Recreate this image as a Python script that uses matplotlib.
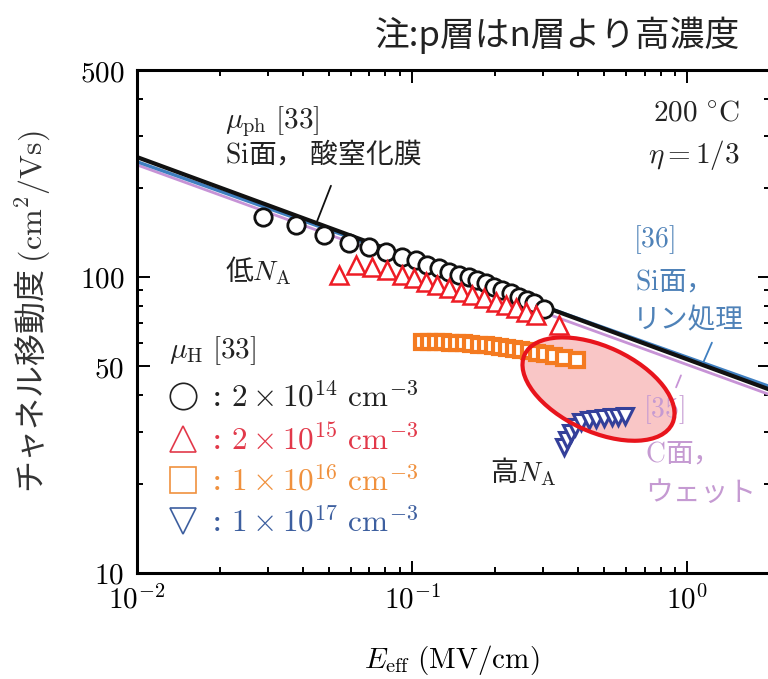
import matplotlib
matplotlib.use('Agg')
import matplotlib.pyplot as plt
import matplotlib.transforms as mtransforms
from matplotlib.patches import Ellipse
from matplotlib.lines import Line2D
from matplotlib.ticker import NullFormatter

plt.rcParams['font.family'] = ['DejaVu Serif', 'Noto Sans CJK JP']
plt.rcParams['mathtext.fontset'] = 'cm'
JP = ['Noto Sans CJK JP']

# ---- data ----
# straight reference lines (two end points each, log-log)
line_x = [0.01, 2.0]
mu_ph_y = [254, 41.6]    # [33] Si face, oxynitride (phonon limited)
si_p_y = [245, 42.6]     # [36] Si face, P treatment
c_wet_y = [239, 40.0]    # [35] C face, wet

# Hall mobility [33], four doping levels
e_14 = [0.0286, 0.0380, 0.0480, 0.0591, 0.0699, 0.0805, 0.0920, 0.1034, 0.1133, 0.1253, 0.1362,
        0.148, 0.161, 0.172, 0.1854, 0.198, 0.212, 0.2285, 0.244, 0.261, 0.277, 0.301]
mu_14 = [159.5, 150, 138.6, 130, 126, 121, 117, 114, 110, 107, 104,
         101.6, 100, 97.7, 95.4, 92.5, 90.3, 88.3, 85.5, 83.6, 81.7, 78]

e_15 = [0.0544, 0.0627, 0.0716, 0.0812, 0.0920, 0.1017, 0.1124, 0.1232, 0.1362, 0.1505,
        0.165, 0.1823, 0.2015, 0.219, 0.238, 0.259, 0.281, 0.341]
mu_15 = [101.6, 110, 108, 105.6, 101.6, 99.2, 96.2, 94, 91.8, 89,
         86.9, 84.9, 82.3, 80.4, 78.6, 76.2, 74.4, 68.8]

e_16 = [0.1087, 0.1153, 0.122, 0.1295, 0.1373, 0.1456, 0.154, 0.1636, 0.175, 0.1854, 0.1965,
        0.2083, 0.221, 0.2343, 0.248, 0.2653, 0.2836, 0.303, 0.3268, 0.3554, 0.396]
mu_16 = [60.5, 60.5, 60.3, 60.2, 60.0, 59.8, 59.6, 59.4, 59.1, 58.8, 58.5,
         58.1, 57.7, 57.2, 56.7, 56.1, 55.5, 54.8, 54.1, 53.3, 52.5]

e_17 = [0.3554, 0.3645, 0.377, 0.3896, 0.41, 0.4378, 0.468, 0.5004, 0.535, 0.5623, 0.596]
mu_17 = [26.7, 28.1, 29.7, 31.1, 32.4, 32.9, 33.1, 33.4, 33.6, 33.7, 33.9]

legend_labels = [r': $2\times10^{14}\ \mathrm{cm}^{-3}$',
                 r': $2\times10^{15}\ \mathrm{cm}^{-3}$',
                 r': $1\times10^{16}\ \mathrm{cm}^{-3}$',
                 r': $1\times10^{17}\ \mathrm{cm}^{-3}$']

x_ticks = [0.01, 0.1, 1]
x_ticklabels = [r'$10^{-2}$', r'$10^{-1}$', r'$10^{0}$']
y_ticks = [10, 50, 100, 500]
y_ticklabels = [r'$10$', r'$50$', r'$100$', r'$500$']

# highlighted region (centre in data units)
ell_center = (0.476, 41.8)

# ---- figure ----
fig = plt.figure(figsize=(7.68, 6.79), dpi=100)
ax = fig.add_axes([137 / 768, 106 / 679, 633 / 768, 503 / 679])
ax.set_xscale('log')
ax.set_yscale('log')
ax.set_xlim(0.01, 2.0)
ax.set_ylim(10, 500)

blue_c = '#3f7fc0'
purple_c = '#c793d6'

ax.plot(line_x, c_wet_y, color=purple_c, lw=2.0, zorder=2)
ax.plot(line_x, si_p_y, color=blue_c, lw=2.4, zorder=2.1)
ax.plot(line_x, mu_ph_y, color='#111111', lw=3.0, zorder=2.2)

# pink ellipse fill (under markers)
off = mtransforms.ScaledTranslation(ell_center[0], ell_center[1], ax.transData)
ax.add_patch(Ellipse((0, 0), 163, 85, angle=-25, transform=off,
                     facecolor='#f9bcbc', edgecolor='none', alpha=0.85, zorder=1.5))

mk = dict(linestyle='none', markerfacecolor='white', zorder=3)
ax.plot(e_14, mu_14, marker='o', ms=12.5, mew=2.0, markeredgecolor='#111111', **mk)
ax.plot(e_15, mu_15, marker='^', ms=13, mew=1.8, markeredgecolor='#ee1c25', **mk)
ax.plot(e_16, mu_16, marker='s', ms=10, mew=3.0, markeredgecolor='#f47a20', **mk)
ax.plot(e_17, mu_17, marker='v', ms=11, mew=2.2, markeredgecolor='#34409a', **mk)

# ellipse outline on top
ax.add_patch(Ellipse((0, 0), 163, 85, angle=-25, transform=off,
                     facecolor='none', edgecolor='#e8141c', lw=3.0, zorder=4))

# axes styling
for s in ax.spines.values():
    s.set_linewidth(2.2)
ax.tick_params(which='both', direction='in', top=True, right=True, width=1.4, labelsize=21)
ax.tick_params(which='major', length=9, pad=9)
ax.tick_params(which='minor', length=4.5)
ax.set_xticks(x_ticks)
ax.set_xticklabels(x_ticklabels)
ax.set_yticks(y_ticks)
ax.set_yticklabels(y_ticklabels)
ax.xaxis.set_minor_formatter(NullFormatter())
ax.yaxis.set_minor_formatter(NullFormatter())

ax.set_xlabel(r'$E_{\rm eff}\ (\mathrm{MV/cm})$', fontsize=21)
ax.xaxis.set_label_coords(0.498, -0.14)
ax.set_ylabel(r'チャネル移動度 $(\mathrm{cm}^2/\mathrm{Vs})$', fontsize=23,
              family=JP, color='#333333')
ax.yaxis.set_label_coords(-0.134, 0.52)

# annotations
txt = dict(transform=ax.transAxes, fontsize=21, va='center', color='#222222')
jtx = dict(txt, fontsize=20, family=JP)
ax.text(0.139, 0.897, r'$\mu_{\rm ph}\ [33]$', ha='left', **txt)
ax.text(0.139, 0.831, r'$\mathrm{Si}$面， 酸窒化膜', ha='left', **jtx)
ax.annotate('', xy=(0.281, 0.688), xytext=(0.308, 0.775), xycoords='axes fraction',
            arrowprops=dict(arrowstyle='-', color='#111111', lw=1.3))
ax.text(0.139, 0.600, r'低$N_{\rm A}$', ha='left', **jtx)
ax.text(0.558, 0.200, r'高$N_{\rm A}$', ha='left', **jtx)
ax.text(0.953, 0.916, r'$200\ ^{\circ}\mathrm{C}$', ha='right', **txt)
ax.text(0.953, 0.831, r'$\eta=1/3$', ha='right', **txt)

bt = dict(jtx, color='#4f82b8')
ax.text(0.784, 0.662, r'$[36]$', ha='left', **bt)
ax.text(0.787, 0.577, r'$\mathrm{Si}$面，', ha='left', **bt)
ax.text(0.784, 0.503, 'リン処理', ha='left', **bt)
ax.annotate('', xy=(0.893, 0.414), xytext=(0.910, 0.463), xycoords='axes fraction',
            arrowprops=dict(arrowstyle='-', color=blue_c, lw=1.3))

pt = dict(jtx, color='#c59ad2')
ax.text(0.799, 0.324, r'$[35]$', ha='left', **pt)
ax.text(0.803, 0.235, r'$\mathrm{C}$面，', ha='left', **pt)
ax.text(0.803, 0.159, 'ウェット', ha='left', **pt)
ax.annotate('', xy=(0.850, 0.364), xytext=(0.861, 0.398), xycoords='axes fraction',
            arrowprops=dict(arrowstyle='-', color=purple_c, lw=1.3))

# legend of the Hall-mobility series
leg_colors = ['#222222', '#e2394a', '#f0913e', '#3d5f9f']
leg_markers = ['o', '^', 's', 'v']
handles = [Line2D([], [], linestyle='none', marker=m, ms=19, mfc='none', mec=c, mew=1.2)
           for m, c in zip(leg_markers, leg_colors)]
leg = ax.legend(handles, legend_labels, loc='upper left', bbox_to_anchor=(0.045, 0.48),
                frameon=False, fontsize=22.5, title=r'$\mu_{\rm H}\ [33]$', title_fontsize=21,
                alignment='left', handlelength=0.95, handletextpad=0.4, labelspacing=0.32,
                borderpad=0.1, borderaxespad=0.0)
for t, c in zip(leg.get_texts(), leg_colors):
    t.set_color(c)
leg.get_title().set_color('#222222')
leg._legend_box.sep = 11

fig.text(0.964, 0.948, '注:p層はn層より高濃度', ha='right', va='center', fontsize=25,
         family=JP, color='#222222')

fig.savefig('out.png', dpi=100)
